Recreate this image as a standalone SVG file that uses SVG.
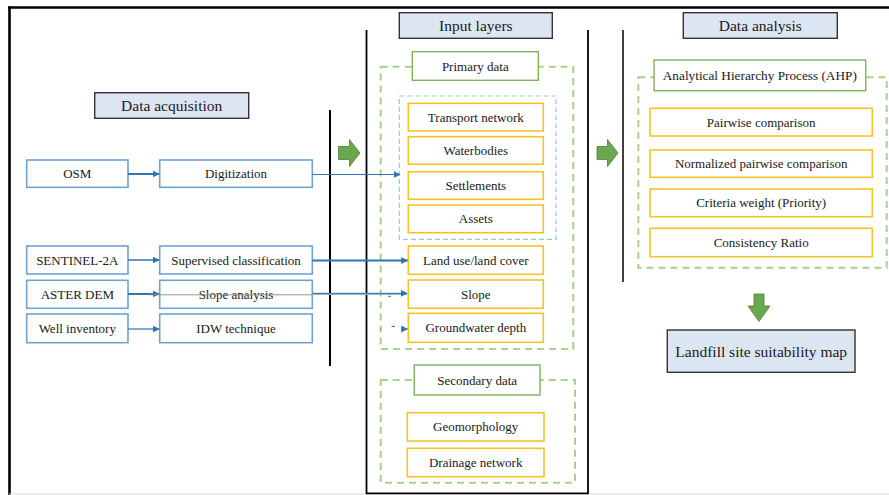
<svg xmlns="http://www.w3.org/2000/svg" width="889" height="495" viewBox="0 0 889 495" font-family="'Liberation Serif', 'DejaVu Serif', serif">
  <style>
    text { font-family: 'Liberation Serif', 'DejaVu Serif', serif; fill: #1a1a1a; text-anchor: middle; }
    .hdr rect { fill: #dce6f2; stroke: #333; stroke-width: 1.4; }
    .hdr text { font-size: 15.5px; }
    .src rect { fill: #fff; stroke: #6fa3d4; stroke-width: 1.6; }
    .src text { font-size: 13px; }
    .lyr rect { fill: #fff; stroke: #f5c325; stroke-width: 1.6; }
    .lyr text { font-size: 13px; }
    .lbl rect { fill: #fff; stroke: #7fb35a; stroke-width: 1.4; }
    .lbl text { font-size: 13px; }
    .grp { fill: none; stroke: #a9d18e; stroke-width: 2; stroke-dasharray: 7 5; }
    .sub { fill: none; stroke: #9dc3e6; stroke-width: 1.2; stroke-dasharray: 5 3; }
    .rule { stroke: #000; fill: none; }
    .flow { stroke: #2e75b6; fill: none; }
    .bigarrow { fill: #6aa84f; stroke: #4f7f35; stroke-width: 0.8; }
  </style>
  <defs>
    <marker id="tip" viewBox="0 0 10 10" refX="9" refY="5" markerWidth="7" markerHeight="7" markerUnits="userSpaceOnUse" orient="auto">
      <path d="M0,0 L10,5 L0,10 z" fill="#2e75b6"/>
    </marker>
  </defs>

  <rect width="889" height="495" fill="#fff"/>

  <!-- page frame and column rules -->
  <g id="frame">
    <line x1="8" y1="7.5" x2="889" y2="7.5" class="rule" stroke-width="2.6"/>
    <line x1="9.5" y1="6.5" x2="9.5" y2="495" class="rule" stroke-width="2.6"/>
    <line x1="9" y1="494" x2="889" y2="494" stroke="#dcdcdc" stroke-width="1.2"/>
    <line x1="330" y1="110" x2="330" y2="366" class="rule" stroke-width="2"/>
    <path d="M366.5,30 V493.3 H588 V30" class="rule" stroke-width="1.8"/>
    <line x1="623" y1="30" x2="623" y2="282" class="rule" stroke-width="1.5"/>
  </g>

  <!-- group outlines -->
  <g id="groups">
    <rect x="380.7" y="66.7" width="192.6" height="282.3" class="grp"/>
    <rect x="399.3" y="96" width="156.7" height="143.3" class="sub"/>
    <rect x="380.7" y="380" width="194.3" height="102.7" class="grp"/>
    <rect x="638.3" y="77.3" width="248.4" height="190.4" class="grp"/>
  </g>

  <!-- section headers -->
  <g id="hdr-acquisition" class="hdr">
    <rect x="94.7" y="92.7" width="154" height="25.6"/>
    <text x="171.7" y="111">Data acquisition</text>
  </g>
  <g id="hdr-input" class="hdr">
    <rect x="399.3" y="12.7" width="153" height="25.6"/>
    <text x="475.8" y="31">Input layers</text>
  </g>
  <g id="hdr-analysis" class="hdr">
    <rect x="683.3" y="12.7" width="154" height="25.6"/>
    <text x="760.3" y="31">Data analysis</text>
  </g>
  <g id="result" class="hdr">
    <rect x="667.3" y="330" width="187.7" height="42.3"/>
    <text x="761.2" y="356.5">Landfill site suitability map</text>
  </g>

  <!-- data sources -->
  <g id="osm" class="src"><rect x="26.7" y="160" width="101.3" height="27.3"/><text x="77.3" y="178.3">OSM</text></g>
  <g id="sentinel" class="src"><rect x="26.7" y="246" width="101.3" height="28"/><text x="77.3" y="264.6">SENTINEL-2A</text></g>
  <g id="aster" class="src"><rect x="26.7" y="280.3" width="101.3" height="28"/><text x="77.3" y="298.9">ASTER DEM</text></g>
  <g id="wells" class="src"><rect x="26.7" y="314" width="101.3" height="28.7"/><text x="77.3" y="332.9">Well inventory</text></g>

  <!-- processing steps -->
  <g id="digitization" class="src"><rect x="159.7" y="160" width="152.6" height="27.3"/><text x="236" y="178.3">Digitization</text></g>
  <g id="classification" class="src"><rect x="159.7" y="246" width="152.6" height="28"/><text x="236" y="264.6">Supervised classification</text></g>
  <g id="slope-analysis" class="src"><rect x="159.7" y="280.3" width="152.6" height="28"/><text x="236" y="298.9">Slope analysis</text></g>
  <g id="idw" class="src"><rect x="159.7" y="314" width="152.6" height="28.7"/><text x="236" y="332.9">IDW technique</text></g>

  <!-- input layer labels -->
  <g id="primary" class="lbl"><rect x="412.3" y="51.7" width="126" height="28.6"/><text x="475.3" y="70.5">Primary data</text></g>
  <g id="secondary" class="lbl"><rect x="414.3" y="365" width="125.7" height="30"/><text x="477.2" y="384.5">Secondary data</text></g>

  <!-- input layers -->
  <g id="transport" class="lyr"><rect x="408.3" y="103.3" width="135" height="27.7"/><text x="475.8" y="121.7">Transport network</text></g>
  <g id="waterbodies" class="lyr"><rect x="408.3" y="136.7" width="135" height="27.6"/><text x="475.8" y="155">Waterbodies</text></g>
  <g id="settlements" class="lyr"><rect x="408.3" y="171.7" width="135" height="27.6"/><text x="475.8" y="190">Settlements</text></g>
  <g id="assets" class="lyr"><rect x="408.3" y="205" width="135" height="27.7"/><text x="475.8" y="223.4">Assets</text></g>
  <g id="lulc" class="lyr"><rect x="408.3" y="246" width="135" height="28.3"/><text x="475.8" y="264.6">Land use/land cover</text></g>
  <g id="slope" class="lyr"><rect x="408.3" y="280" width="135" height="28.3"/><text x="475.8" y="298.6">Slope</text></g>
  <g id="groundwater" class="lyr"><rect x="408.3" y="313.3" width="135" height="29"/><text x="475.8" y="332.3">Groundwater depth</text></g>
  <g id="geomorphology" class="lyr"><rect x="407.3" y="412.7" width="136.7" height="28.3"/><text x="475.7" y="431.3">Geomorphology</text></g>
  <g id="drainage" class="lyr"><rect x="407.3" y="448.3" width="136.7" height="28.4"/><text x="475.7" y="467">Drainage network</text></g>

  <!-- AHP steps -->
  <g id="ahp" class="lbl"><rect x="654" y="60" width="211.7" height="30.7"/><text x="759.8" y="79.8" font-size="12.5" textLength="194" lengthAdjust="spacingAndGlyphs">Analytical Hierarchy Process (AHP)</text></g>
  <g id="pairwise" class="lyr"><rect x="650" y="108.3" width="222.3" height="27.7"/><text x="761.2" y="126.7">Pairwise comparison</text></g>
  <g id="normalized" class="lyr"><rect x="650" y="150" width="222.3" height="27.3"/><text x="761.2" y="168.2">Normalized pairwise comparison</text></g>
  <g id="criteria" class="lyr"><rect x="650" y="189" width="222.3" height="27.7"/><text x="761.2" y="207.4">Criteria weight (Priority)</text></g>
  <g id="consistency" class="lyr"><rect x="650" y="228.3" width="222.3" height="28.4"/><text x="761.2" y="247">Consistency Ratio</text></g>

  <!-- block arrows between stages -->
  <g id="stage-arrows">
    <path class="bigarrow" d="M338.5,146.5 H349.5 V139.5 L360,153 L349.5,166.5 V159.5 H338.5 z"/>
    <path class="bigarrow" d="M597,146.5 H607.5 V139.5 L618,153 L607.5,166.5 V159.5 H597 z"/>
    <path class="bigarrow" d="M754,294 H764 V306 H770 L759,321.5 L748,306 H754 z"/>
  </g>

  <!-- connectors -->
  <g id="connectors">
    <line x1="128" y1="174" x2="159" y2="174" class="flow" stroke-width="2" marker-end="url(#tip)"/>
    <line x1="312.3" y1="174.5" x2="400" y2="174.5" class="flow" stroke-width="1.2" marker-end="url(#tip)"/>
    <line x1="128" y1="260" x2="159" y2="260" class="flow" stroke-width="1.5" marker-end="url(#tip)"/>
    <line x1="312.3" y1="260.5" x2="407.5" y2="260.5" class="flow" stroke-width="2" marker-end="url(#tip)"/>
    <line x1="128" y1="294" x2="159" y2="294" class="flow" stroke-width="2" marker-end="url(#tip)"/>
    <line x1="150" y1="294.8" x2="312.3" y2="294.8" stroke="#8c8c8c" stroke-width="0.9"/>
    <line x1="312.3" y1="294" x2="407" y2="294" stroke="#9aaec4" stroke-width="2.2"/>
    <line x1="312.3" y1="293.3" x2="407" y2="293.3" class="flow" stroke-width="1" marker-end="url(#tip)"/>
    <line x1="388" y1="296.3" x2="391" y2="296.3" class="flow" stroke-width="1"/>
    <line x1="128" y1="329" x2="159" y2="329" class="flow" stroke-width="1.2" marker-end="url(#tip)"/>
    <line x1="380" y1="329" x2="381" y2="329" class="flow" stroke-width="1"/>
    <line x1="391.5" y1="326.5" x2="395" y2="326.5" class="flow" stroke-width="1"/>
    <line x1="401" y1="329" x2="407.5" y2="329" class="flow" stroke-width="1" marker-end="url(#tip)"/>
  </g>
</svg>
